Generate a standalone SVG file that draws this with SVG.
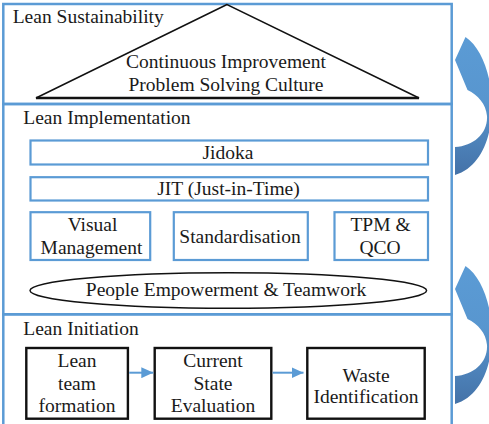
<svg xmlns="http://www.w3.org/2000/svg" width="489" height="424" viewBox="0 0 489 424">
  <style>
    text { font-family: "Liberation Serif", "DejaVu Serif", serif; font-size: 19.5px; fill: #1a1a1a; }
    .c { text-anchor: middle; }
    .sec { fill: none; stroke: #5b9bd5; stroke-width: 2.5; }
    .bb { fill: #ffffff; stroke: #5b9bd5; stroke-width: 2.2; }
    .kb { fill: #ffffff; stroke: #111111; stroke-width: 2.4; }
    .ln { fill: none; stroke: #111111; stroke-width: 1.5; }
    .ar { fill: none; stroke: #5b9bd5; stroke-width: 2; }
  </style>
  <defs>
    <marker id="ah" markerUnits="userSpaceOnUse" markerWidth="12" markerHeight="11" refX="12" refY="5.5" orient="auto">
      <path d="M0,0 L12,5.5 L0,11 Z" fill="#5b9bd5"/>
    </marker>
    <linearGradient id="cg" x1="0" y1="0" x2="0" y2="1">
      <stop offset="0" stop-color="#5b9bd5"/>
      <stop offset="0.45" stop-color="#5896cf"/>
      <stop offset="1" stop-color="#4472a8"/>
    </linearGradient>
    <path id="curv" d="M455,147 C474,146 488,133 487,116 C486,104 478,95 467.5,90 L455,60 L465.5,37 C500,60 505,160 455,175 Z" fill="url(#cg)"/>
  </defs>
  <rect width="489" height="424" fill="#ffffff"/>

  <g id="lean-sustainability">
    <rect class="sec" x="3.3" y="4" width="448.4" height="100"/>
    <text x="12.7" y="23.3" font-family="Liberation Serif, serif">Lean Sustainability</text>
  </g>
  <g id="continuous-improvement">
    <polygon class="ln" points="227,4.5 36,98 419,98"/>
    <line x1="36" y1="98" x2="419" y2="98" stroke="#111111" stroke-width="2.4"/>
    <text class="c" x="226" y="68" font-family="Liberation Serif, serif">Continuous Improvement</text>
    <text class="c" x="226" y="90.5" font-family="Liberation Serif, serif">Problem Solving Culture</text>
  </g>

  <g id="lean-implementation">
    <rect class="sec" x="3.3" y="104" width="448.4" height="210.3"/>
    <text x="23.3" y="124" font-family="Liberation Serif, serif">Lean Implementation</text>
  </g>
  <g id="jidoka">
    <rect class="bb" x="30.5" y="140.5" width="397.5" height="24"/>
    <text class="c" x="228" y="158.5" font-family="Liberation Serif, serif">Jidoka</text>
  </g>
  <g id="jit">
    <rect class="bb" x="30.5" y="177.2" width="397.5" height="23.3"/>
    <text class="c" x="228.5" y="195" font-family="Liberation Serif, serif">JIT (Just-in-Time)</text>
  </g>
  <g id="visual-management">
    <rect class="bb" x="30.5" y="212.2" width="119.7" height="47.8"/>
    <text class="c" x="92.5" y="231" font-family="Liberation Serif, serif">Visual</text>
    <text class="c" x="91.5" y="254" font-family="Liberation Serif, serif">Management</text>
  </g>
  <g id="standardisation">
    <rect class="bb" x="173.8" y="212.2" width="134" height="47.8"/>
    <text class="c" x="240" y="242.5" font-family="Liberation Serif, serif">Standardisation</text>
  </g>
  <g id="tpm-qco">
    <rect class="bb" x="334.5" y="212.2" width="93.5" height="47.8"/>
    <text class="c" x="380.5" y="230.5" font-family="Liberation Serif, serif">TPM &amp;</text>
    <text class="c" x="380" y="254" font-family="Liberation Serif, serif">QCO</text>
  </g>
  <g id="people-empowerment">
    <ellipse class="ln" cx="228.3" cy="290.5" rx="198.3" ry="17.8" fill="#ffffff"/>
    <text class="c" x="226" y="296" font-family="Liberation Serif, serif">People Empowerment &amp; Teamwork</text>
  </g>

  <g id="lean-initiation">
    <rect class="sec" x="3.3" y="314.3" width="448.4" height="115"/>
    <text x="23.3" y="335" font-family="Liberation Serif, serif">Lean Initiation</text>
  </g>
  <g id="lean-team-formation">
    <rect class="kb" x="26.3" y="348" width="101.6" height="70.7"/>
    <text class="c" x="77" y="366.7" font-family="Liberation Serif, serif">Lean</text>
    <text class="c" x="77" y="389.5" font-family="Liberation Serif, serif">team</text>
    <text class="c" x="77" y="411.7" font-family="Liberation Serif, serif">formation</text>
  </g>
  <g id="current-state-evaluation">
    <rect class="kb" x="154.7" y="348" width="116.6" height="70.7"/>
    <text class="c" x="213" y="366.7" font-family="Liberation Serif, serif">Current</text>
    <text class="c" x="213" y="389.5" font-family="Liberation Serif, serif">State</text>
    <text class="c" x="213" y="411.7" font-family="Liberation Serif, serif">Evaluation</text>
  </g>
  <g id="waste-identification">
    <rect class="kb" x="307.3" y="348" width="117.4" height="70.7"/>
    <text class="c" x="366" y="381.7" font-family="Liberation Serif, serif">Waste</text>
    <text class="c" x="366" y="403.3" font-family="Liberation Serif, serif">Identification</text>
  </g>

  <g id="connectors">
    <line class="ar" x1="129.2" y1="372.7" x2="153.3" y2="372.7" marker-end="url(#ah)"/>
    <line class="ar" x1="272.6" y1="372.7" x2="303.5" y2="372.7" marker-end="url(#ah)"/>
    <use href="#curv"/>
    <use href="#curv" transform="translate(0,229)"/>
  </g>
</svg>
